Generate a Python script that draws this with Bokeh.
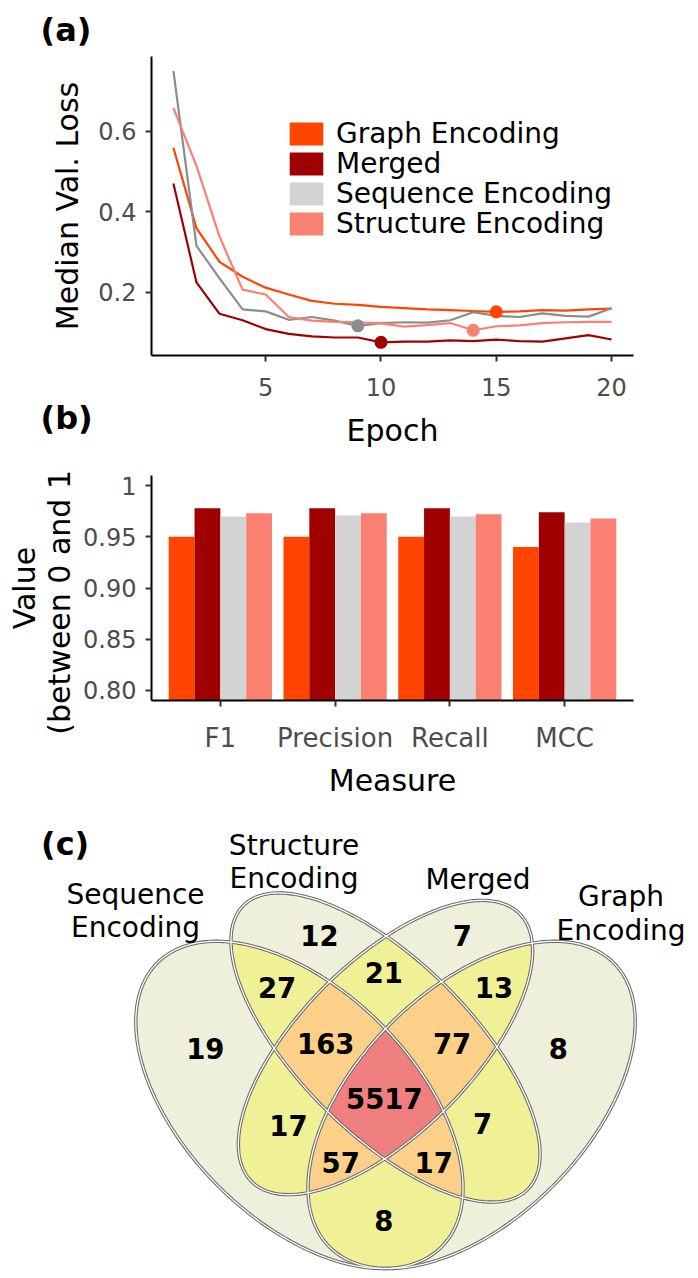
import numpy as np
from itertools import combinations
from bokeh.plotting import figure
from bokeh.models import Range1d, FixedTicker, Legend, LegendItem, Title, ColumnDataSource
from bokeh.layouts import column
from bokeh.core.properties import value
from bokeh.embed import file_html
from bokeh.resources import INLINE

FONT = "DejaVu Sans"

# ------------------------------------------------------------------ data
models = ["Graph Encoding", "Merged", "Sequence Encoding", "Structure Encoding"]
key_colors = ["#FF4500", "#A00000", "#D3D3D3", "#FA8072"]
line_colors = ["#FF4500", "#A00000", "#8C8C8C", "#FA8072"]

epochs = list(range(1, 21))
loss_graph = [0.559, 0.359, 0.275, 0.238, 0.211, 0.194, 0.178, 0.171, 0.168, 0.163,
              0.160, 0.157, 0.155, 0.153, 0.151, 0.152, 0.155, 0.154, 0.157, 0.159]
loss_merged = [0.470, 0.224, 0.146, 0.130, 0.108, 0.096, 0.090, 0.087, 0.087, 0.075,
               0.077, 0.077, 0.080, 0.078, 0.082, 0.078, 0.077, 0.085, 0.093, 0.082]
loss_sequence = [0.750, 0.315, 0.234, 0.157, 0.152, 0.131, 0.138, 0.129, 0.116, 0.123,
                 0.125, 0.124, 0.130, 0.150, 0.141, 0.138, 0.147, 0.141, 0.139, 0.160]
loss_structure = [0.658, 0.514, 0.338, 0.206, 0.194, 0.138, 0.129, 0.126, 0.125, 0.122,
                  0.114, 0.118, 0.123, 0.105, 0.115, 0.117, 0.123, 0.125, 0.126, 0.126]
losses = [loss_graph, loss_merged, loss_sequence, loss_structure]

measures = ["F1", "Precision", "Recall", "MCC"]
score_graph = [0.950, 0.950, 0.950, 0.940]
score_merged = [0.978, 0.978, 0.978, 0.974]
score_sequence = [0.970, 0.971, 0.970, 0.964]
score_structure = [0.973, 0.973, 0.972, 0.968]
scores = [score_graph, score_merged, score_sequence, score_structure]

y_ticks_a = [0.2, 0.4, 0.6]
x_ticks_a = [5, 10, 15, 20]
y_ticks_b = [0.80, 0.85, 0.90, 0.95, 1.0]
y_tick_labels_b = ["0.80", "0.85", "0.90", "0.95", "1"]

venn_sets = ["Sequence Encoding", "Structure Encoding", "Merged", "Graph Encoding"]
venn_keys = ["1000", "0100", "0010", "0001", "1100", "0110", "0011", "1010",
             "0101", "1001", "1110", "0111", "1011", "1101", "1111"]
venn_counts = [19, 12, 7, 8, 27, 21, 13, 17, 7, 8, 163, 77, 57, 17, 5517]

# ------------------------------------------------------------------ layout constants
W = 698
TICK_COL = "#4D4D4D"
FR_L, FR_R = 151, 633          # frame left / right (px) of panels a and b


def style(p):
    p.outline_line_color = None
    p.background_fill_color = "white"
    p.xgrid.visible = False
    p.ygrid.visible = False
    for ax in p.axis:
        ax.axis_line_width = 2
        ax.axis_line_color = "black"
        ax.major_tick_line_width = 2
        ax.major_tick_line_color = "#333333"
        ax.major_tick_out = 6
        ax.major_tick_in = 0
        ax.minor_tick_line_color = None
        ax.major_label_text_font = FONT
        ax.major_label_text_font_size = "24px"
        ax.major_label_text_color = TICK_COL
        ax.axis_label_text_font = FONT
        ax.axis_label_text_font_size = "30px"
        ax.axis_label_text_font_style = "normal"
        ax.axis_label_text_color = "black"
    p.yaxis.major_label_standoff = 9
    p.xaxis.major_label_standoff = 16


def panel_letter(p, txt, standoff):
    p.add_layout(Title(text=txt, align="left", offset=-111, standoff=standoff,
                       text_font=FONT, text_font_size="32px", text_font_style="bold",
                       text_color="black"), "above")


# ------------------------------------------------------------------ panel (a)
pa = figure(width=W, height=450, x_range=Range1d(0.05, 20.95), y_range=Range1d(0.0423, 0.7858),
            output_backend="svg", toolbar_location=None, frame_align=False,
            min_border_left=FR_L, min_border_right=W - FR_R, min_border_top=53, min_border_bottom=87)
style(pa)
pa.yaxis.axis_label_standoff = 10
pa.xaxis.axis_label_standoff = 14
pa.xaxis.ticker = FixedTicker(ticks=x_ticks_a)
pa.yaxis.ticker = FixedTicker(ticks=y_ticks_a)
pa.xaxis.axis_label = "Epoch"
pa.yaxis.axis_label = "Median Val. Loss"
panel_letter(pa, "(a)", 16)

for ys, col in zip(losses, line_colors):
    pa.line(epochs, ys, line_color=col, line_width=2.2)

LEG_Y = [205, 175, 145, 115]     # legend rows, px above the frame bottom
for name, ys, col, kcol, ly in zip(models, losses, line_colors, key_colors, LEG_Y):
    i = int(np.argmin(ys))
    pa.scatter([epochs[i]], [ys[i]], size=13, fill_color=col, line_color=None)
    # zero-size bar at the same point: only used for the legend key
    r = pa.vbar(x=[epochs[i]], top=[ys[i]], bottom=[ys[i]], width=0,
                fill_color=kcol, line_color=None)
    pa.add_layout(Legend(items=[LegendItem(label=name, renderers=[r])], location=(134, ly),
                         glyph_width=42, glyph_height=29,
                         label_text_font=FONT, label_text_font_size="28px",
                         label_text_color="black", spacing=0, padding=0, margin=0,
                         label_standoff=9, border_line_color=None, background_fill_alpha=0))

# ------------------------------------------------------------------ panel (b)
B_OVER = 100   # panel (b) canvas is pulled up over the (empty) bottom of panel (a)
pb = figure(width=W, height=350 + B_OVER, x_range=Range1d(0.4, 4.6), y_range=Range1d(0.79, 1.01),
            output_backend="svg", toolbar_location=None, frame_align=False,
            min_border_left=FR_L, min_border_right=W - FR_R, min_border_top=25 + B_OVER,
            min_border_bottom=88)
pb.margin = (-B_OVER, 0, 0, 0)
pb.border_fill_alpha = 0
style(pb)
pb.xaxis.major_label_text_font_size = "26px"
pb.yaxis.axis_label_standoff = 3
pb.xaxis.axis_label_standoff = 7
pb.xaxis.ticker = FixedTicker(ticks=[i + 1 for i in range(len(measures))])
pb.xaxis.major_label_overrides = {float(i + 1): m for i, m in enumerate(measures)}
pb.yaxis.ticker = FixedTicker(ticks=y_ticks_b)
pb.yaxis.major_label_overrides = {t: s for t, s in zip(y_ticks_b, y_tick_labels_b)}
pb.xaxis.axis_label = "Measure"
# the closing parenthesis is cut off in the reference; keep the visible text
pb.yaxis.axis_label = "Value\n(between 0 and 1\u00a0\u00a0\u00a0"
pb.yaxis.axis_label_text_line_height = 1.0
panel_letter(pb, "(b)", 78)

dodge = 0.9
bw = dodge / len(models)
for j, (vals, col) in enumerate(zip(scores, key_colors)):
    xs = [i + 1 - dodge / 2 + bw * (j + 0.5) for i in range(len(measures))]
    pb.vbar(x=xs, top=vals, bottom=0, width=bw, fill_color=col, line_color=None)

# ------------------------------------------------------------------ panel (c) venn
ELLIPSES = [(0.35, 0.47, 0.35, 0.20, 135),   # Sequence
            (0.50, 0.57, 0.35, 0.15, 135),   # Structure
            (0.50, 0.57, 0.33, 0.15, 45),    # Merged
            (0.65, 0.47, 0.35, 0.20, 45)]    # Graph
LEVEL_COLORS = ["#EEF0DC", "#F0F096", "#FCD088", "#F08080"]
C_TOP = 800            # page px of the venn canvas top
H_C = 1278 - C_TOP
SCALE = 574.0          # px per unit
CX_PX = 385.0          # page px of unit x = 0.5
V_BASE, VB_PX = 0.185, 1268.0   # unit y = 0.185 sits at page px 1268


def ux(px):
    return 0.5 + (px - CX_PX) / SCALE


def uy(py):
    return V_BASE + (VB_PX - py) / SCALE


x0, x1 = ux(0), ux(W)
y_top, y_bot = uy(C_TOP), uy(1278)

COUNT_POS = {"1000": (0.186, 0.568), "0100": (0.385, 0.765), "0010": (0.634, 0.765),
             "0001": (0.801, 0.568), "1100": (0.311, 0.675), "0110": (0.497, 0.701),
             "0011": (0.689, 0.675), "1010": (0.331, 0.434), "0101": (0.669, 0.438),
             "1001": (0.497, 0.269), "1110": (0.396, 0.577), "0111": (0.616, 0.577),
             "1011": (0.422, 0.370), "1101": (0.584, 0.370), "1111": (0.498, 0.481)}
# set names: (centre px, baseline px of each line)
SET_POS = [(135, [894, 927]), (293.5, [845, 878]), (477.5, [879]), (620.5, [896, 930])]


def ellipse_points(cx, cy, a, b, rot, n=400):
    t = np.linspace(0, 2 * np.pi, n, endpoint=False)
    th = np.deg2rad(rot)
    x = cx + a * np.cos(t) * np.cos(th) - b * np.sin(t) * np.sin(th)
    y = cy + a * np.cos(t) * np.sin(th) + b * np.sin(t) * np.cos(th)
    return np.column_stack([x, y])


def clip_poly(P, C):
    for i in range(len(C)):
        if len(P) == 0:
            break
        a = C[i]
        b = C[(i + 1) % len(C)]
        ab = b - a
        d = ab[0] * (P[:, 1] - a[1]) - ab[1] * (P[:, 0] - a[0])
        S = np.roll(P, 1, axis=0)
        ds = np.roll(d, 1)
        cin = d >= 0
        sin_ = ds >= 0
        change = cin != sin_
        denom = np.where(change, ds - d, 1.0)
        t = np.where(change, ds / denom, 0.0)
        I = S + t[:, None] * (P - S)
        stacked = np.stack([I, P], axis=1)
        mask = np.stack([change, cin], axis=1)
        P = stacked[mask]
    return P


pc = figure(width=W, height=H_C, x_range=Range1d(x0, x1), y_range=Range1d(y_bot, y_top),
            output_backend="svg", toolbar_location=None, x_axis_type=None, y_axis_type=None,
            min_border=0, frame_align=False)
pc.outline_line_color = None
pc.xgrid.visible = False
pc.ygrid.visible = False

polys = [ellipse_points(*e) for e in ELLIPSES]
for k in range(1, 5):
    for combo in combinations(range(4), k):
        P = polys[combo[0]]
        for j in combo[1:]:
            P = clip_poly(P, polys[j])
        if len(P) >= 3:
            pc.patch(P[:, 0], P[:, 1], fill_color=LEVEL_COLORS[k - 1], line_color=None)

for P in polys:
    pc.line(np.append(P[:, 0], P[0, 0]), np.append(P[:, 1], P[0, 1]),
            line_color="#6A6A6A", line_width=3.4)
for P in polys:
    pc.line(np.append(P[:, 0], P[0, 0]), np.append(P[:, 1], P[0, 1]),
            line_color="white", line_width=1.3)

cnt_src = ColumnDataSource(dict(x=[COUNT_POS[k][0] for k in venn_keys],
                                y=[COUNT_POS[k][1] for k in venn_keys],
                                text=[str(c) for c in venn_counts]))
pc.text(x="x", y="y", text="text", source=cnt_src, text_font=value(FONT),
        text_font_size="27.5px", text_font_style="bold", text_align="center",
        text_baseline="middle", text_color="black")

sx, sy, st = [], [], []
for name, (px, pys) in zip(venn_sets, SET_POS):
    for w_, py in zip(name.split(" "), pys):
        sx.append(ux(px))
        sy.append(uy(py))
        st.append(w_)
pc.text(x=sx, y=sy, text=st, text_font=value(FONT), text_font_size="28px",
        text_align="center", text_baseline="alphabetic", text_color="black")

pc.text(x=[ux(40.5)], y=[uy(843)], text=["(c)"],
        text_font=value(FONT), text_font_size="32px", text_font_style="bold",
        text_align="left", text_baseline="middle", text_color="black")

layout = column(pa, pb, pc)
open("out.html", "w").write(file_html(layout, INLINE))
